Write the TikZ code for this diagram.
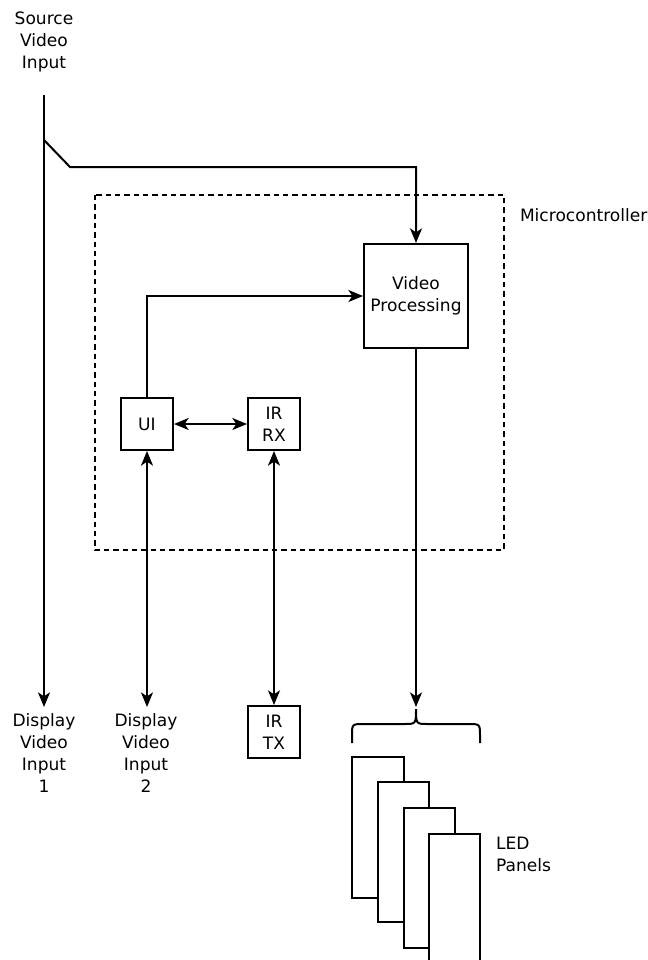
\documentclass[tikz,border=0pt]{standalone}
\usepackage{fontspec}
\setmainfont{DejaVu Sans}
\usetikzlibrary{arrows.meta}
\begin{document}
\begin{tikzpicture}[x=0.75pt,y=-0.75pt,
  line width=1.5pt,
  font=\fontsize{12.8}{16.5}\selectfont,
  box/.style={draw,fill=white,minimum width=39pt,minimum height=39pt,inner sep=0pt,align=center},
  bigbox/.style={draw,fill=white,minimum width=78pt,minimum height=78pt,inner sep=0pt,align=center},
  lbl/.style={align=center,inner sep=0pt},
  panel/.style={draw,fill=white},
  tip/.style={-{Stealth[length=11pt,width=9pt,inset=3pt]}},
  dtip/.style={{Stealth[length=11pt,width=9pt,inset=3pt]}-{Stealth[length=11pt,width=9pt,inset=3pt]}}]
\useasboundingbox (0,0) rectangle (647,960);
% texts
\node[lbl] (src) at (44,42) {Source\\Video\\Input};
\node[lbl,anchor=north] (d1) at (44,713) {Display\\Video\\Input\\1};
\node[lbl,anchor=north] (d2) at (146,713) {Display\\Video\\Input\\2};
\node[lbl,anchor=west] (mc) at (519,215) {Microcontroller};
\node[lbl,anchor=west,align=left] (led) at (495,854) {LED\\Panels};
% dashed microcontroller
\draw[line width=1.1pt,dash pattern=on 4pt off 3pt] (95,195) rectangle (504,550);
% boxes
\node[bigbox] (vp) at (416,296) {Video\\Processing};
\node[box] (ui) at (147,424) {UI};
\node[box] (rx) at (274,424) {IR\\RX};
\node[box] (tx) at (274,732) {IR\\TX};
% coordinates
\coordinate (s0) at (44,95);
\coordinate (s1) at (44,140);
\coordinate (s2) at (70,167);
\coordinate (s3) at (vp.north |- s2);
\coordinate (d1t) at (44,707);
\coordinate (d2t) at (147,707);
\coordinate (bt) at (416,707);
% connectors
\draw[tip] (s0) -- (d1t);
\draw[tip] (s1) -- (s2) -- (s3) -- (vp.north);
\draw[tip] (ui.north) |- (vp.west);
\draw[dtip] (ui.east) -- (rx.west);
\draw[dtip] (d2t) -- (ui.south);
\draw[dtip] (tx.north) -- (rx.south);
\draw[tip] (vp.south) -- (bt);
% brace
\draw (352,743) -- (352,736) .. controls (352,724) .. (364,724) -- (404,724) .. controls (416,724) .. (416,709)
      .. controls (416,724) .. (428,724) -- (468,724) .. controls (480,724) .. (480,736) -- (480,743);
% LED panels
\draw[panel] (352,757) rectangle (404,898);
\draw[panel] (378,782) rectangle (429,922);
\draw[panel] (404,808) rectangle (455,948);
\draw[panel] (429,834) rectangle (480,975);
\end{tikzpicture}
\end{document}
